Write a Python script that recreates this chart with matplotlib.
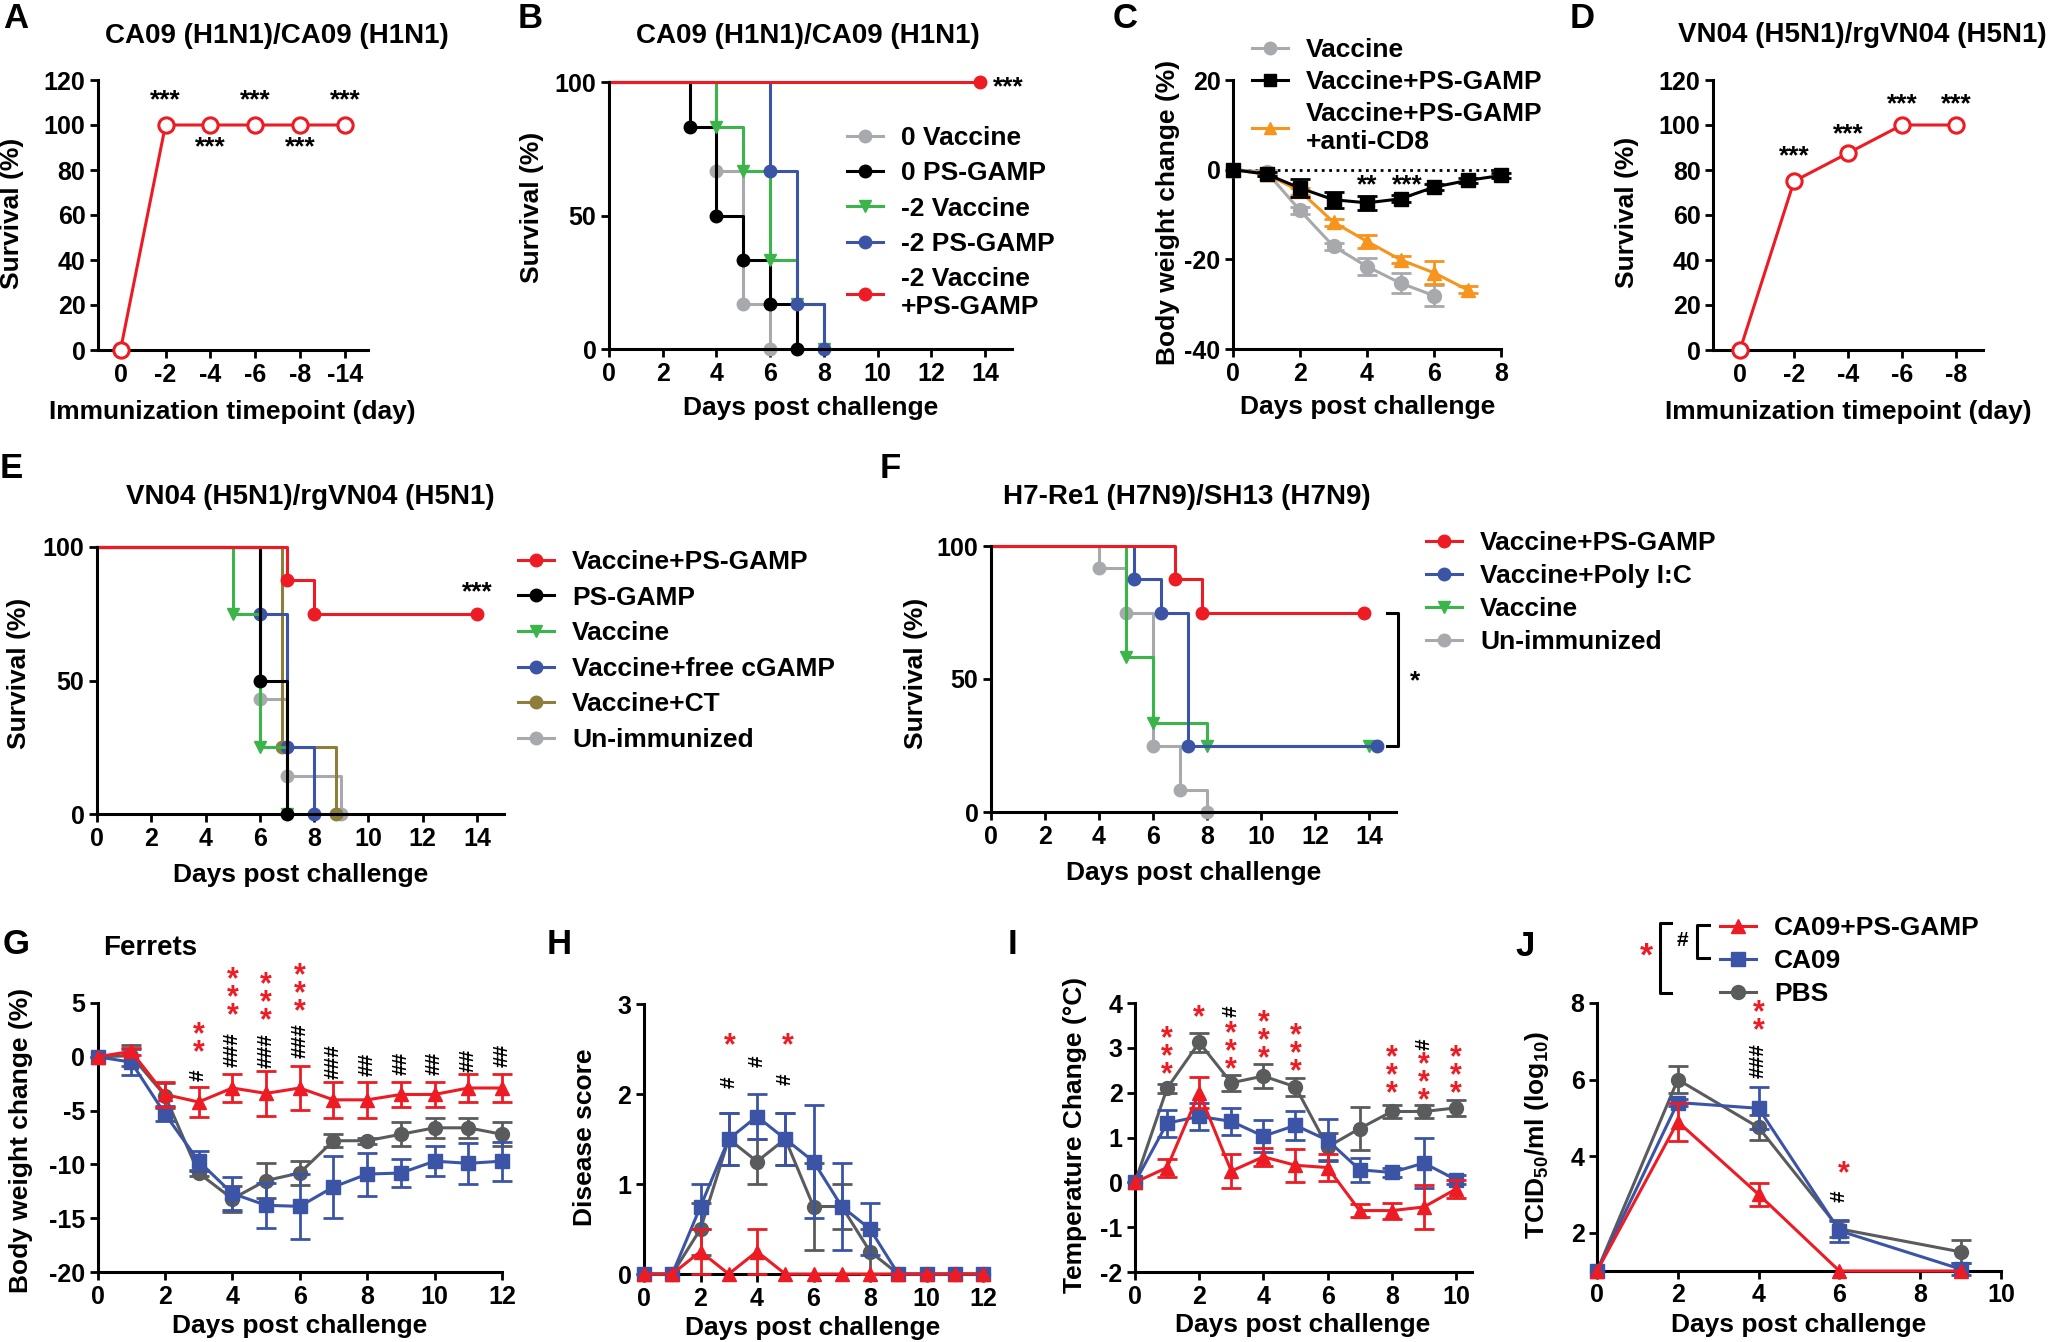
import matplotlib
matplotlib.use('Agg')
import matplotlib.pyplot as plt
from matplotlib.lines import Line2D
import numpy as np

plt.rcParams['font.family'] = ['Liberation Sans', 'DejaVu Sans']
plt.rcParams['font.weight'] = 'bold'
plt.rcParams['axes.unicode_minus'] = False
plt.rcParams['mathtext.fontset'] = 'custom'
plt.rcParams['mathtext.rm'] = 'Liberation Sans:bold'
plt.rcParams['mathtext.default'] = 'rm'

# ---------------- data ----------------
# A: survival vs immunization timepoint, CA09
a_labels = ['0', '-2', '-4', '-6', '-8', '-14']
a_surv = [0, 100, 100, 100, 100, 100]
a_star_y = [None, 111, 90, 111, 90, 111]

# B: Kaplan-Meier, CA09 (times, survival)
b_groups = ['0 Vaccine', '0 PS-GAMP', '-2 Vaccine', '-2 PS-GAMP', '-2 Vaccine\n+PS-GAMP']
b_times = [[0, 4, 5, 6], [0, 3, 4, 5, 6, 7], [0, 4, 5, 6, 7, 8], [0, 6, 7, 8], [0, 13.8]]
b_surv = [[100, 66.7, 16.7, 0], [100, 83.3, 50, 33.3, 16.7, 0],
          [100, 83.3, 66.7, 33.3, 16.7, 0], [100, 66.7, 16.7, 0], [100, 100]]

# C: body weight change
c_groups = ['Vaccine', 'Vaccine+PS-GAMP', 'Vaccine+PS-GAMP\n+anti-CD8']
c_vac = [0, -0.5, -9.1, -17.1, -21.6, -25.3, -28.1]
c_vac_err = [0, 0.5, 0.8, 0.8, 1.9, 2.2, 2.3]
c_ps = [0, -1.0, -4.1, -6.7, -7.4, -6.5, -3.9, -2.4, -1.3]
c_ps_err = [0, 0.5, 2.0, 1.8, 1.5, 0.8, 0.6, 0.6, 0.6]
c_cd8 = [0, -1.0, -4.8, -11.7, -16.0, -20.1, -23.0, -26.8]
c_cd8_err = [0, 0.5, 0.8, 0.8, 1.5, 0.8, 2.6, 0.8]

# D: survival vs immunization timepoint, VN04
d_labels = ['0', '-2', '-4', '-6', '-8']
d_surv = [0, 75, 87.5, 100, 100]
d_star_y = [None, 86, 96, 109, 109]

# E: Kaplan-Meier, VN04
e_groups = ['Vaccine+PS-GAMP', 'PS-GAMP', 'Vaccine', 'Vaccine+free cGAMP', 'Vaccine+CT', 'Un-immunized']
e_times = [[0, 7, 8, 14], [0, 6, 7], [0, 5, 6, 7], [0, 6, 7, 8], [0, 6.8, 8.8], [0, 6, 7, 9]]
e_surv = [[100, 87.5, 75, 75], [100, 50, 0], [100, 75, 25, 0], [100, 75, 25, 0],
          [100, 25, 0], [100, 42.9, 14.3, 0]]

# F: Kaplan-Meier, H7N9
f_groups = ['Vaccine+PS-GAMP', 'Vaccine+Poly I:C', 'Vaccine', 'Un-immunized']
f_times = [[0, 6.8, 7.8, 13.8], [0, 5.3, 6.3, 7.3, 14.3], [0, 5, 6, 8, 14], [0, 4, 5, 6, 7, 8]]
f_surv = [[100, 87.5, 75, 75], [100, 87.5, 75, 25, 25], [100, 58.3, 33.3, 25, 25],
          [100, 91.7, 75, 25, 8.3, 0]]

# G: ferret body weight
g_days = list(range(13))
g_red = [0, 0.5, -3.5, -4.2, -2.9, -3.4, -2.9, -4.0, -4.0, -3.5, -3.5, -2.9, -2.9]
g_red_err = [0, 0.3, 1.2, 1.4, 1.3, 2.1, 2.0, 1.7, 1.7, 1.2, 1.2, 1.3, 1.3]
g_blue = [0, -0.5, -5.3, -9.7, -12.7, -13.8, -13.9, -12.1, -10.9, -10.8, -9.7, -9.9, -9.7]
g_blue_err = [0, 1.2, 0.7, 0.9, 1.5, 2.1, 3.0, 2.9, 2.0, 1.3, 1.4, 1.9, 1.8]
g_gray = [0, 0.1, -3.6, -10.8, -13.2, -11.5, -10.8, -7.8, -7.8, -7.2, -6.6, -6.6, -7.2]
g_gray_err = [0, 1.0, 1.2, 0.3, 1.2, 1.6, 1.1, 0.6, 0.3, 1.1, 0.9, 0.9, 1.1]
g_hash = [(3, -1.7, 1), (4, 0.7, 3), (5, 0.6, 3), (6, 1.5, 3), (7, -0.4, 3), (8, -0.7, 2),
          (9, -0.6, 2), (10, -0.6, 2), (11, -0.3, 2), (12, 0.15, 2)]
g_star = [(3, 1.2, 2), (4, 5.4, 3), (5, 5.0, 3), (6, 5.8, 3)]

# H: disease score
h_days = list(range(13))
h_blue = [0, 0, 0.75, 1.5, 1.75, 1.5, 1.25, 0.75, 0.5, 0, 0, 0, 0]
h_blue_err = [0, 0, 0.25, 0.29, 0.25, 0.29, 0.63, 0.48, 0.29, 0, 0, 0, 0]
h_gray = [0, 0, 0.5, 1.5, 1.25, 1.5, 0.75, 0.75, 0.25, 0, 0, 0, 0]
h_gray_err = [0, 0, 0.29, 0.29, 0.25, 0.29, 0.48, 0.25, 0.25, 0, 0, 0, 0]
h_red = [0, 0, 0.25, 0, 0.25, 0, 0, 0, 0, 0, 0, 0, 0]
h_red_err = [0, 0, 0.25, 0, 0.25, 0, 0, 0, 0, 0, 0, 0, 0]
h_hash = [(3, 2.13, 1), (4, 2.36, 1), (5, 2.16, 1)]
h_star = [(3.05, 2.53, 1), (5.1, 2.53, 1)]

# I: temperature change
i_days = list(range(11))
i_gray = [0, 2.1, 3.12, 2.22, 2.37, 2.13, 0.79, 1.2, 1.58, 1.58, 1.66]
i_gray_err = [0, 0.1, 0.22, 0.18, 0.27, 0.2, 0.3, 0.47, 0.15, 0.15, 0.17]
i_blue = [0, 1.32, 1.47, 1.36, 1.03, 1.27, 0.94, 0.28, 0.22, 0.43, 0.06]
i_blue_err = [0, 0.3, 0.3, 0.3, 0.35, 0.33, 0.47, 0.27, 0.1, 0.55, 0.1]
i_red = [0, 0.33, 2.0, 0.25, 0.57, 0.38, 0.33, -0.63, -0.63, -0.55, -0.15]
i_red_err = [0, 0.2, 0.35, 0.38, 0.2, 0.37, 0.3, 0.15, 0.18, 0.48, 0.2]
i_hash = [(3, 3.82, 1), (9, 3.08, 1)]
i_star = [(1, 2.78, 3), (2, 3.67, 1), (3, 2.9, 3), (4, 3.15, 3), (5, 2.85, 3),
          (8, 2.36, 3), (9, 2.2, 3), (10, 2.36, 3)]

# J: lung virus titer
j_groups = ['CA09+PS-GAMP', 'CA09', 'PBS']
j_days = [0, 2, 4, 6, 9]
j_red = [1, 4.9, 3.0, 1.0, 1.0]
j_red_err = [0, 0.5, 0.3, 0, 0]
j_blue = [1, 5.4, 5.25, 2.05, 1.05]
j_blue_err = [0, 0.1, 0.55, 0.28, 0.15]
j_gray = [1, 6.0, 4.75, 2.1, 1.5]
j_gray_err = [0, 0.35, 0.33, 0.2, 0.3]
j_hash = [(4, 6.5, 3), (6, 2.95, 1)]
j_star = [(4, 7.5, 2), (6.1, 3.52, 1)]

# ---------------- style ----------------
RED = '#ED1C24'
BLUE = '#3B54A5'
GREEN = '#3BB54A'
LGRAY = '#A7A9AC'
DGRAY = '#5A5B5D'
ORANGE = '#F7941D'
OLIVE = '#8D7E3B'
BLACK = '#000000'
FS = 18      # tick labels
LFS = 19     # axis labels, legends, stars
TFS = 20     # panel titles

W, H = 2058, 1342
fig = plt.figure(figsize=(W / 100, H / 100), dpi=100)


def add_ax(l, t, r, b):
    ax = fig.add_axes([l / W, 1 - b / H, (r - l) / W, (b - t) / H])
    for s in ('top', 'right'):
        ax.spines[s].set_visible(False)
    for s in ('left', 'bottom'):
        ax.spines[s].set_linewidth(2.2)
    ax.tick_params(width=2, length=6, labelsize=FS, pad=3)
    return ax


def ftext(x, y, s, **kw):
    kw.setdefault('fontsize', LFS)
    kw.setdefault('ha', 'center')
    kw.setdefault('va', 'center')
    fig.text(x / W, 1 - y / H, s, **kw)


def labels(xl, yl, xpos, ypos):
    ftext(xpos[0], xpos[1], xl)
    ftext(ypos[0], ypos[1], yl, rotation=90)


def letter(x, y, s):
    ftext(x, y, s, fontsize=25, ha='left')


def km(ax, t, s, color, marker, ms=9):
    ax.step(t, s, where='post', color=color, lw=2.2, clip_on=False)
    ax.plot(t[1:], s[1:], ls='none', marker=marker, color=color, ms=ms, clip_on=False)


def series(ax, x, y, e, color, marker, ms=10):
    ax.plot(x, y, color=color, marker=marker, ms=ms, lw=2.2, clip_on=False, zorder=3)
    x = np.array(x, float); y = np.array(y, float); e = np.array(e, float)
    m = e > 0
    ax.errorbar(x[m], y[m], yerr=e[m], fmt='none', ecolor=color, elinewidth=2,
                capsize=7, capthick=2, clip_on=False, zorder=3)


def legend_at(ax, handles, labs, x, y, spacing):
    ax.legend(handles, labs, loc='upper left', bbox_to_anchor=(x / W, 1 - y / H),
              bbox_transform=fig.transFigure, frameon=False, fontsize=LFS,
              handlelength=1.35, handletextpad=0.7, borderpad=0, borderaxespad=0,
              labelspacing=spacing)


def handle(color, marker, ms=9):
    return Line2D([], [], color=color, marker=marker, ms=ms, lw=2.2)


def stars(ax, x, y, txt, color=BLACK):
    ax.text(x, y, txt, ha='center', va='center', fontsize=LFS, color=color, clip_on=False)


def stacks(ax, hashes, starlist, color_star=RED):
    for x, y, n in hashes:
        ax.text(x, y, '#' * n, rotation=90, ha='center', va='center', fontsize=15, clip_on=False)
    for x, y, n in starlist:
        ax.text(x, y, '\n'.join(['*'] * n), ha='center', va='center', fontsize=22,
                linespacing=0.48, color=color_star, clip_on=False)


# ---------------- A ----------------
ax = add_ax(98, 80, 368, 350)
xa = np.arange(len(a_labels))
ax.plot(xa, a_surv, color=RED, marker='o', mfc='white', mew=2.2, ms=11, lw=2.2, clip_on=False, zorder=3)
for i, yy in enumerate(a_star_y):
    if yy is not None:
        stars(ax, xa[i], yy, '***')
ax.set_xlim(-0.5, 5.5)
ax.set_ylim(0, 120)
ax.set_yticks(range(0, 121, 20))
ax.set_xticks(xa)
ax.set_xticklabels(a_labels)
letter(3, 19, 'A')
ftext(277, 36, 'CA09 (H1N1)/CA09 (H1N1)', fontsize=TFS)
labels('Immunization timepoint (day)', 'Survival (%)', (232, 412), (12, 213))

# ---------------- B ----------------
ax = add_ax(609, 82, 1012, 349)
b_cols = [LGRAY, BLACK, GREEN, BLUE, RED]
b_mk = ['o', 'o', 'v', 'o', 'o']
for t, s, c, m in zip(b_times, b_surv, b_cols, b_mk):
    km(ax, t, s, c, m)
stars(ax, 14.85, 98, '***')
ax.set_xlim(0, 15)
ax.set_ylim(0, 100)
ax.set_yticks([0, 50, 100])
ax.set_xticks(range(0, 15, 2))
legend_at(ax, [handle(c, m) for c, m in zip(b_cols, b_mk)], b_groups, 847, 126, 0.43)
letter(518, 19, 'B')
ftext(808, 36, 'CA09 (H1N1)/CA09 (H1N1)', fontsize=TFS)
labels('Days post challenge', 'Survival (%)', (811, 408), (532, 207))

# ---------------- C ----------------
ax = add_ax(1233, 80, 1501, 349)
ax.plot([0, 8], [0, 0], ls=':', color=BLACK, lw=2, zorder=1)
series(ax, range(len(c_vac)), c_vac, c_vac_err, LGRAY, 'o')
series(ax, range(len(c_cd8)), c_cd8, c_cd8_err, ORANGE, '^')
series(ax, range(len(c_ps)), c_ps, c_ps_err, BLACK, 's')
stars(ax, 4, -3.6, '**')
stars(ax, 5.2, -3.6, '***')
ax.set_xlim(0, 8)
ax.set_ylim(-40, 20)
ax.set_yticks([-40, -20, 0, 20])
ax.set_xticks(range(0, 9, 2))
legend_at(ax, [handle(LGRAY, 'o'), handle(BLACK, 's'), handle(ORANGE, '^')], c_groups, 1252, 38, 0.3)
letter(1113, 19, 'C')
labels('Days post challenge', 'Body weight change (%)', (1368, 407), (1168, 212))

# ---------------- D ----------------
ax = add_ax(1713, 80, 1983, 350)
xd = np.arange(len(d_labels))
ax.plot(xd, d_surv, color=RED, marker='o', mfc='white', mew=2.2, ms=11, lw=2.2, clip_on=False, zorder=3)
for i, yy in enumerate(d_star_y):
    if yy is not None:
        stars(ax, xd[i], yy, '***')
ax.set_xlim(-0.5, 4.5)
ax.set_ylim(0, 120)
ax.set_yticks(range(0, 121, 20))
ax.set_xticks(xd)
ax.set_xticklabels(d_labels)
letter(1570, 19, 'D')
ftext(1862, 35, 'VN04 (H5N1)/rgVN04 (H5N1)', fontsize=TFS)
labels('Immunization timepoint (day)', 'Survival (%)', (1848, 412), (1627, 212))

# ---------------- E ----------------
ax = add_ax(97, 547, 504, 814)
e_cols = [RED, BLACK, GREEN, BLUE, OLIVE, LGRAY]
e_mk = ['o', 'o', 'v', 'o', 'o', 'o']
for k in [5, 4, 3, 2, 1, 0]:
    km(ax, e_times[k], e_surv[k], e_cols[k], e_mk[k])
stars(ax, 14.0, 83, '***')
ax.set_xlim(0, 15)
ax.set_ylim(0, 100)
ax.set_yticks([0, 50, 100])
ax.set_xticks(range(0, 15, 2))
legend_at(ax, [handle(c, m) for c, m in zip(e_cols, e_mk)], e_groups, 518, 550, 0.44)
letter(0, 468, 'E')
ftext(310, 497, 'VN04 (H5N1)/rgVN04 (H5N1)', fontsize=TFS)
labels('Days post challenge', 'Survival (%)', (301, 875), (19, 673))

# ---------------- F ----------------
ax = add_ax(991, 546, 1396, 812)
f_cols = [RED, BLUE, GREEN, LGRAY]
f_mk = ['o', 'o', 'v', 'o']
for k in [3, 2, 1, 0]:
    km(ax, f_times[k], f_surv[k], f_cols[k], f_mk[k])
ax.plot([14.67, 15.07, 15.07, 14.67], [75, 75, 25, 25], color=BLACK, lw=2.2, clip_on=False)
stars(ax, 15.7, 49, '*')
ax.set_xlim(0, 15)
ax.set_ylim(0, 100)
ax.set_yticks([0, 50, 100])
ax.set_xticks(range(0, 15, 2))
legend_at(ax, [handle(c, m) for c, m in zip(f_cols, f_mk)], f_groups, 1426, 531, 0.34)
letter(880, 468, 'F')
ftext(1187, 497, 'H7-Re1 (H7N9)/SH13 (H7N9)', fontsize=TFS)
labels('Days post challenge', 'Survival (%)', (1194, 873), (916, 673))

# ---------------- G ----------------
ax = add_ax(97.5, 1003, 502, 1272)
series(ax, g_days, g_gray, g_gray_err, DGRAY, 'o')
series(ax, g_days, g_blue, g_blue_err, BLUE, 's')
series(ax, g_days, g_red, g_red_err, RED, '^')
stacks(ax, g_hash, g_star)
ax.set_xlim(0, 12)
ax.set_ylim(-20, 5)
ax.set_yticks(range(-20, 6, 5))
ax.set_xticks(range(0, 13, 2))
letter(3, 945, 'G')
ftext(150, 948, 'Ferrets', fontsize=TFS)
labels('Days post challenge', 'Body weight change (%)', (300, 1326), (21, 1140))

# ---------------- H ----------------
ax = add_ax(644, 1004, 983, 1274)
series(ax, h_days, h_gray, h_gray_err, DGRAY, 'o')
series(ax, h_days, h_blue, h_blue_err, BLUE, 's')
series(ax, h_days, h_red, h_red_err, RED, '^')
stacks(ax, h_hash, h_star)
ax.set_xlim(0, 12)
ax.set_ylim(0, 3)
ax.set_yticks([0, 1, 2, 3])
ax.set_xticks(range(0, 13, 2))
letter(547, 945, 'H')
labels('Days post challenge', 'Disease score', (813, 1328), (585, 1137))

# ---------------- I ----------------
ax = add_ax(1135, 1003, 1472, 1272)
series(ax, i_days, i_gray, i_gray_err, DGRAY, 'o')
series(ax, i_days, i_blue, i_blue_err, BLUE, 's')
series(ax, i_days, i_red, i_red_err, RED, '^')
stacks(ax, i_hash, i_star)
ax.set_xlim(0, 10.5)
ax.set_ylim(-2, 4)
ax.set_yticks(range(-2, 5))
ax.set_xticks(range(0, 11, 2))
letter(1008, 945, 'I')
labels('Days post challenge', 'Temperature Change (\u00b0C)', (1303, 1325), (1075, 1135))

# ---------------- J ----------------
ax = add_ax(1597, 1003, 2001, 1271)
series(ax, j_days, j_gray, j_gray_err, DGRAY, 'o')
series(ax, j_days, j_blue, j_blue_err, BLUE, 's')
series(ax, j_days, j_red, j_red_err, RED, '^')
stacks(ax, j_hash, j_star)
ax.set_xlim(0, 10)
ax.set_ylim(1, 8)
ax.set_yticks([2, 4, 6, 8])
ax.set_xticks(range(0, 11, 2))
legend_at(ax, [handle(RED, '^', 10), handle(BLUE, 's', 10), handle(DGRAY, 'o', 10)], j_groups, 1720, 916, 0.35)
letter(1515, 947, 'J')
labels('Days post challenge', 'TCID$_{50}$/ml (log$_{10}$)', (1799, 1325), (1537, 1135))


# significance brackets beside the J legend
def fline(xs, ys, color=BLACK):
    fig.add_artist(Line2D([x / W for x in xs], [1 - y / H for y in ys], color=color, lw=2.2,
                          transform=fig.transFigure))


fline([1709, 1697, 1697, 1709], [925, 925, 958, 958])
fline([1671, 1660, 1660, 1671], [923, 923, 993, 993])
ftext(1682, 941, '#', fontsize=15)
ftext(1646, 957, '*', fontsize=24, color=RED)

fig.savefig('out.png', dpi=100)
